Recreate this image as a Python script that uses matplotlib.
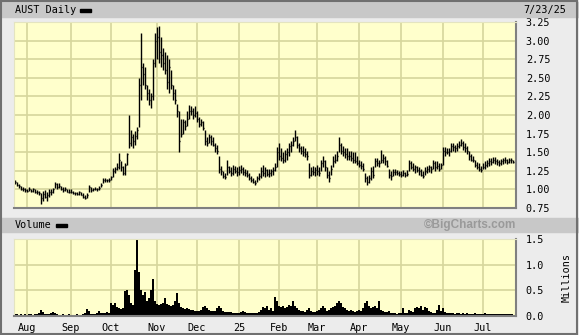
import numpy as np
import pandas as pd
import matplotlib
matplotlib.use("Agg")
from matplotlib import pyplot as plt
from matplotlib.patches import Rectangle

# trading days shown on the chart (NYSE holidays removed)
HOLIDAYS = ["2024-09-02", "2024-11-28", "2024-12-25", "2025-01-01", "2025-01-09",
            "2025-01-20", "2025-02-17", "2025-04-18", "2025-05-26", "2025-06-19",
            "2025-07-04"]
dates = pd.bdate_range("2024-07-24", "2025-07-23")
dates = dates[~dates.isin(pd.to_datetime(HOLIDAYS))]

high = [
    1.13, 1.10, 1.07, 1.05, 1.03, 1.02, 1.01, 1.03, 1.01, 1.02,
    1.00, 0.99, 0.98, 0.95, 0.98, 0.99, 0.96, 1.00, 1.00, 1.02,
    1.10, 1.08, 1.09, 1.05, 1.03, 1.03, 1.01, 1.00, 1.00, 0.98,
    0.97, 0.97, 0.98, 0.97, 0.95, 0.93, 0.95, 1.06, 1.03, 1.02,
    1.03, 1.02, 1.04, 1.08, 1.15, 1.15, 1.14, 1.15, 1.18, 1.29,
    1.30, 1.35, 1.49, 1.38, 1.32, 1.35, 1.49, 2.00, 1.80, 1.75,
    1.78, 1.84, 2.50, 3.10, 2.70, 2.65, 2.40, 2.35, 2.30, 2.75,
    3.10, 3.18, 3.20, 3.05, 2.90, 2.85, 2.80, 2.75, 2.60, 2.40,
    2.35, 2.15, 2.05, 1.95, 1.95, 1.93, 2.05, 2.13, 2.12, 2.10,
    2.12, 2.05, 1.97, 1.95, 1.92, 1.80, 1.70, 1.75, 1.73, 1.70,
    1.62, 1.60, 1.45, 1.32, 1.25, 1.22, 1.40, 1.32, 1.30, 1.33,
    1.32, 1.30, 1.32, 1.33, 1.30, 1.28, 1.26, 1.22, 1.18, 1.15,
    1.13, 1.18, 1.22, 1.30, 1.33, 1.30, 1.28, 1.27, 1.28, 1.30,
    1.35, 1.57, 1.62, 1.55, 1.50, 1.53, 1.55, 1.62, 1.65, 1.70,
    1.80, 1.72, 1.62, 1.58, 1.58, 1.55, 1.52, 1.35, 1.30, 1.32,
    1.30, 1.33, 1.30, 1.40, 1.45, 1.40, 1.30, 1.25, 1.33, 1.45,
    1.48, 1.52, 1.70, 1.62, 1.58, 1.55, 1.55, 1.52, 1.52, 1.50,
    1.50, 1.45, 1.40, 1.38, 1.35, 1.22, 1.18, 1.20, 1.30, 1.32,
    1.42, 1.42, 1.40, 1.53, 1.48, 1.45, 1.40, 1.28, 1.25, 1.28,
    1.27, 1.26, 1.25, 1.25, 1.26, 1.24, 1.26, 1.40, 1.38, 1.35,
    1.33, 1.32, 1.30, 1.28, 1.25, 1.30, 1.32, 1.33, 1.32, 1.40,
    1.38, 1.38, 1.35, 1.35, 1.57, 1.57, 1.55, 1.55, 1.62, 1.63,
    1.60, 1.62, 1.65, 1.68, 1.65, 1.62, 1.58, 1.52, 1.48, 1.45,
    1.40, 1.37, 1.35, 1.32, 1.35, 1.38, 1.40, 1.42, 1.42, 1.43,
    1.43, 1.41, 1.40, 1.41, 1.42, 1.43, 1.41, 1.42, 1.42, 1.40,
]
low = [
    1.07, 1.05, 1.02, 0.99, 0.98, 0.96, 0.97, 0.98, 0.96, 0.97,
    0.95, 0.94, 0.93, 0.80, 0.85, 0.88, 0.84, 0.90, 0.93, 0.95,
    1.02, 1.00, 1.02, 0.99, 0.97, 0.98, 0.96, 0.95, 0.95, 0.94,
    0.93, 0.93, 0.93, 0.92, 0.88, 0.87, 0.89, 0.96, 0.97, 0.98,
    0.99, 0.98, 0.99, 1.03, 1.08, 1.10, 1.10, 1.10, 1.12, 1.17,
    1.22, 1.26, 1.28, 1.25, 1.19, 1.20, 1.33, 1.55, 1.58, 1.56,
    1.60, 1.68, 1.84, 2.20, 2.40, 2.35, 2.20, 2.13, 2.10, 2.20,
    2.65, 2.75, 2.70, 2.65, 2.60, 2.55, 2.35, 2.30, 2.35, 2.20,
    2.15, 1.97, 1.50, 1.70, 1.75, 1.80, 1.85, 1.95, 2.00, 1.95,
    1.97, 1.90, 1.84, 1.85, 1.80, 1.60, 1.58, 1.62, 1.60, 1.58,
    1.50, 1.48, 1.22, 1.20, 1.15, 1.14, 1.20, 1.22, 1.18, 1.20,
    1.22, 1.18, 1.20, 1.22, 1.20, 1.18, 1.17, 1.13, 1.10, 1.08,
    1.06, 1.10, 1.12, 1.15, 1.18, 1.17, 1.18, 1.17, 1.18, 1.20,
    1.25, 1.30, 1.40, 1.38, 1.35, 1.37, 1.40, 1.45, 1.50, 1.58,
    1.65, 1.55, 1.50, 1.48, 1.45, 1.43, 1.40, 1.15, 1.18, 1.20,
    1.18, 1.20, 1.18, 1.25, 1.30, 1.25, 1.15, 1.10, 1.20, 1.30,
    1.35, 1.38, 1.50, 1.48, 1.45, 1.42, 1.40, 1.40, 1.38, 1.36,
    1.35, 1.33, 1.30, 1.28, 1.25, 1.10, 1.06, 1.08, 1.12, 1.15,
    1.30, 1.32, 1.30, 1.35, 1.35, 1.33, 1.30, 1.15, 1.13, 1.18,
    1.20, 1.19, 1.18, 1.17, 1.18, 1.16, 1.18, 1.25, 1.28, 1.25,
    1.22, 1.23, 1.20, 1.18, 1.15, 1.20, 1.22, 1.23, 1.22, 1.28,
    1.25, 1.28, 1.25, 1.27, 1.33, 1.45, 1.47, 1.45, 1.50, 1.52,
    1.50, 1.52, 1.55, 1.58, 1.53, 1.50, 1.48, 1.40, 1.38, 1.37,
    1.30, 1.28, 1.25, 1.23, 1.27, 1.28, 1.30, 1.32, 1.33, 1.35,
    1.34, 1.33, 1.32, 1.33, 1.34, 1.35, 1.34, 1.35, 1.36, 1.35,
]
close = [
    1.10, 1.06, 1.04, 1.01, 1.00, 0.99, 0.98, 1.01, 0.98, 1.00,
    0.97, 0.96, 0.95, 0.88, 0.94, 0.90, 0.92, 0.97, 0.96, 1.00,
    1.07, 1.03, 1.05, 1.01, 0.99, 1.00, 0.97, 0.97, 0.96, 0.95,
    0.95, 0.94, 0.96, 0.93, 0.90, 0.89, 0.93, 1.03, 0.99, 1.00,
    1.01, 1.00, 1.02, 1.06, 1.12, 1.12, 1.13, 1.12, 1.16, 1.25,
    1.27, 1.30, 1.40, 1.30, 1.22, 1.33, 1.47, 1.62, 1.70, 1.65,
    1.72, 1.80, 2.40, 2.65, 2.55, 2.40, 2.30, 2.20, 2.25, 2.70,
    3.00, 3.05, 2.85, 2.80, 2.70, 2.60, 2.45, 2.65, 2.40, 2.30,
    2.20, 2.05, 1.65, 1.75, 1.90, 1.85, 1.95, 2.05, 2.05, 2.00,
    2.03, 1.95, 1.88, 1.90, 1.83, 1.65, 1.62, 1.70, 1.65, 1.60,
    1.55, 1.52, 1.28, 1.25, 1.18, 1.16, 1.30, 1.25, 1.22, 1.28,
    1.25, 1.24, 1.26, 1.28, 1.24, 1.22, 1.20, 1.15, 1.12, 1.10,
    1.08, 1.15, 1.18, 1.25, 1.22, 1.26, 1.21, 1.22, 1.25, 1.26,
    1.30, 1.50, 1.45, 1.42, 1.40, 1.48, 1.50, 1.58, 1.60, 1.65,
    1.70, 1.60, 1.55, 1.52, 1.50, 1.48, 1.45, 1.20, 1.25, 1.23,
    1.26, 1.25, 1.22, 1.35, 1.38, 1.30, 1.20, 1.15, 1.28, 1.38,
    1.40, 1.45, 1.60, 1.52, 1.50, 1.48, 1.45, 1.45, 1.42, 1.40,
    1.38, 1.36, 1.33, 1.32, 1.28, 1.15, 1.10, 1.15, 1.25, 1.20,
    1.38, 1.35, 1.36, 1.40, 1.42, 1.38, 1.32, 1.20, 1.18, 1.24,
    1.23, 1.22, 1.21, 1.20, 1.22, 1.19, 1.21, 1.35, 1.30, 1.28,
    1.30, 1.26, 1.25, 1.20, 1.18, 1.25, 1.27, 1.30, 1.28, 1.35,
    1.30, 1.32, 1.28, 1.33, 1.52, 1.50, 1.50, 1.52, 1.58, 1.57,
    1.55, 1.58, 1.60, 1.63, 1.57, 1.55, 1.52, 1.45, 1.40, 1.40,
    1.33, 1.30, 1.28, 1.26, 1.30, 1.33, 1.35, 1.38, 1.37, 1.40,
    1.38, 1.37, 1.35, 1.38, 1.39, 1.40, 1.37, 1.39, 1.40, 1.37,
]
# volume, millions of shares
volume = [
    0.03, 0.03, 0.02, 0.03, 0.02, 0.03, 0.02, 0.03, 0.03, 0.02,
    0.03, 0.04, 0.06, 0.12, 0.07, 0.04, 0.03, 0.03, 0.05, 0.08,
    0.06, 0.03, 0.02, 0.02, 0.03, 0.02, 0.02, 0.03, 0.02, 0.02,
    0.02, 0.03, 0.02, 0.02, 0.03, 0.05, 0.13, 0.09, 0.04, 0.03,
    0.03, 0.05, 0.10, 0.06, 0.05, 0.06, 0.07, 0.06, 0.25, 0.22,
    0.25, 0.18, 0.15, 0.14, 0.15, 0.48, 0.50, 0.40, 0.25, 0.22,
    0.90, 1.48, 0.85, 0.50, 0.40, 0.47, 0.30, 0.35, 0.50, 0.73,
    0.30, 0.24, 0.22, 0.24, 0.25, 0.36, 0.24, 0.22, 0.20, 0.22,
    0.30, 0.45, 0.25, 0.18, 0.16, 0.14, 0.15, 0.13, 0.12, 0.11,
    0.10, 0.09, 0.10, 0.12, 0.18, 0.20, 0.16, 0.12, 0.10, 0.09,
    0.10, 0.15, 0.20, 0.15, 0.10, 0.08, 0.07, 0.08, 0.07, 0.06,
    0.06, 0.06, 0.06, 0.08, 0.10, 0.08, 0.06, 0.06, 0.06, 0.05,
    0.05, 0.06, 0.08, 0.12, 0.18, 0.15, 0.20, 0.12, 0.15, 0.10,
    0.37, 0.30, 0.20, 0.18, 0.20, 0.15, 0.18, 0.22, 0.20, 0.30,
    0.20, 0.15, 0.12, 0.10, 0.10, 0.08, 0.12, 0.15, 0.10, 0.08,
    0.08, 0.10, 0.12, 0.15, 0.20, 0.15, 0.10, 0.12, 0.15, 0.18,
    0.20, 0.25, 0.30, 0.25, 0.18, 0.15, 0.12, 0.10, 0.12, 0.10,
    0.08, 0.10, 0.12, 0.10, 0.15, 0.25, 0.30, 0.20, 0.15, 0.18,
    0.20, 0.15, 0.30, 0.12, 0.10, 0.08, 0.08, 0.10, 0.06, 0.05,
    0.05, 0.04, 0.05, 0.05, 0.15, 0.06, 0.05, 0.12, 0.10, 0.08,
    0.15, 0.18, 0.15, 0.20, 0.12, 0.18, 0.15, 0.10, 0.08, 0.06,
    0.06, 0.12, 0.21, 0.10, 0.15, 0.08, 0.06, 0.05, 0.05, 0.05,
    0.04, 0.05, 0.05, 0.04, 0.05, 0.04, 0.05, 0.04, 0.04, 0.04,
    0.05, 0.04, 0.04, 0.03, 0.04, 0.05, 0.04, 0.03, 0.04, 0.04,
    0.03, 0.04, 0.03, 0.04, 0.04, 0.03, 0.04, 0.04, 0.03, 0.04,
]
month_labels = ["Aug", "Sep", "Oct", "Nov", "Dec", "25", "Feb", "Mar", "Apr", "May", "Jun", "Jul"]
price_ticks = [0.75, 1.00, 1.25, 1.50, 1.75, 2.00, 2.25, 2.50, 2.75, 3.00, 3.25]
volume_ticks = [0.0, 0.5, 1.0, 1.5]

W, H = 579, 335
BG = "#ececec"
BAND = "#c8c8c8"
FACE = "#ffffcc"
GRID = "#d6d69c"
FONT = "DejaVu Sans Mono"
FS = 7.3

x = np.arange(len(dates))
month_pos = [i for i in range(1, len(dates)) if dates[i].month != dates[i - 1].month]


def fig_box(px_left, px_top, px_right, px_bottom):
    return [px_left / W, 1 - px_bottom / H, (px_right - px_left) / W, (px_bottom - px_top) / H]


def style_axes(ax):
    ax.set_facecolor(FACE)
    ax.set_xlim(-0.5, len(dates) + 0.5)
    ax.set_xticks(month_pos)
    ax.grid(True, color=GRID, linewidth=1.2)
    ax.set_axisbelow(True)
    ax.yaxis.tick_right()
    ax.tick_params(length=0, labelsize=FS, pad=7)
    for side in ("top", "left"):
        ax.spines[side].set_color("#e4e4c0")
    for side in ("bottom", "right"):
        ax.spines[side].set_color("#808080")
        ax.spines[side].set_linewidth(1.5)


fig = plt.figure(figsize=(W / 100, H / 100), dpi=100, facecolor=BG)

# header bands
fig.patches.append(Rectangle((0, 1 - 17 / H), 1, 15 / H, transform=fig.transFigure,
                             color=BAND, zorder=0))
fig.patches.append(Rectangle((0, 1 - 232 / H), 1, 14 / H, transform=fig.transFigure,
                             color=BAND, zorder=0))
# outer frame
fig.patches.append(Rectangle((0.001, 0.002), 0.996, 0.996, transform=fig.transFigure,
                             fill=False, edgecolor="#707070", linewidth=1.5, zorder=5))

# price panel
ax = fig.add_axes(fig_box(14, 22, 516, 208))
style_axes(ax)
ax.set_ylim(0.75, 3.25)
ax.set_yticks(price_ticks)
ax.set_yticklabels([f"{t:.2f}" for t in price_ticks], fontfamily=FONT)
ax.set_xticklabels([])
ax.vlines(x, low, high, color="black", linewidth=1.0)
ax.hlines(close, x, x + 0.5, color="black", linewidth=1.0)

# volume panel
axv = fig.add_axes(fig_box(14, 239, 516, 316))
style_axes(axv)
axv.set_ylim(0, 1.5)
axv.set_yticks(volume_ticks)
axv.set_yticklabels([f"{t:.1f}" for t in volume_ticks], fontfamily=FONT)
axv.fill_between(x, 0, volume, step="mid", color="black", linewidth=0)
axv.set_xticklabels(month_labels, fontfamily=FONT, fontsize=FS)
axv.tick_params(axis="x", pad=5)

# texts
fig.text(15 / W, 1 - 10 / H, "AUST Daily", fontfamily=FONT, fontsize=FS, va="center")
fig.patches.append(Rectangle((80 / W, 1 - 11.5 / H), 11 / W, 3 / H, transform=fig.transFigure,
                             color="black", zorder=3))
fig.text(566 / W, 1 - 10 / H, "7/23/25", fontfamily=FONT, fontsize=FS, va="center", ha="right")
fig.text(15 / W, 1 - 225 / H, "Volume", fontfamily=FONT, fontsize=FS, va="center")
fig.patches.append(Rectangle((56 / W, 1 - 226.5 / H), 11 / W, 3 / H, transform=fig.transFigure,
                             color="black", zorder=3))
fig.text(516 / W, 1 - 225 / H, "\u00a9BigCharts.com", fontfamily="Liberation Sans",
         fontweight="bold", fontsize=8.5, color="#9a9a9a", va="center", ha="right")
fig.text(567 / W, 1 - 277 / H, "Millions", fontfamily=FONT, fontsize=FS, rotation=90,
         va="center", ha="center")

fig.savefig("out.png", dpi=100, facecolor=BG)
